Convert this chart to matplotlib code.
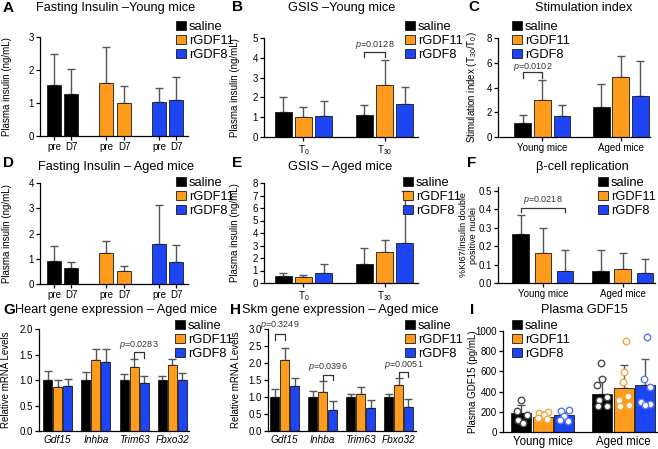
import matplotlib.pyplot as plt
from matplotlib.patches import Patch

plt.rcParams['font.family'] = ['Liberation Sans', 'DejaVu Sans']
plt.rcParams['mathtext.fontset'] = 'custom'
plt.rcParams['mathtext.rm'] = 'Liberation Sans'
plt.rcParams['mathtext.it'] = 'Liberation Sans:italic'
plt.rcParams['axes.linewidth'] = 0.9

# ---- data ----
groups = ['saline', 'rGDF11', 'rGDF8']
colors = ['#000000', '#ff9b1c', '#1d44f5']
dot_edges = ['#4a4a4a', '#f7a640', '#5a78f2']

# A / D: order saline pre, saline D7, rGDF11 pre, rGDF11 D7, rGDF8 pre, rGDF8 D7
prepost_labels = ['pre', 'D7', 'pre', 'D7', 'pre', 'D7']
A_mean = [1.54, 1.26, 1.62, 0.99, 1.02, 1.09]
A_err = [0.94, 0.76, 1.08, 0.53, 0.44, 0.71]
D_mean = [0.91, 0.64, 1.21, 0.52, 1.58, 0.88]
D_err = [0.59, 0.22, 0.49, 0.18, 1.55, 0.65]

# B / E: T0 then T30, each saline, rGDF11, rGDF8
time_labels = ['T$_0$', 'T$_{30}$']
B_mean = [1.25, 0.99, 1.08, 1.13, 2.64, 1.67]
B_err = [0.77, 0.53, 0.72, 0.50, 1.25, 0.84]
E_mean = [0.59, 0.48, 0.83, 1.52, 2.48, 3.20]
E_err = [0.21, 0.19, 0.69, 1.25, 0.99, 4.13]

# C / F / I: young then aged
age_labels = ['Young mice', 'Aged mice']
C_mean = [1.13, 3.02, 1.72, 2.43, 4.85, 3.29]
C_err = [0.62, 1.56, 0.89, 1.88, 1.73, 2.86]
F_mean = [0.263, 0.161, 0.065, 0.065, 0.078, 0.056]
F_err = [0.107, 0.135, 0.115, 0.115, 0.083, 0.074]
I_mean = [188, 150, 172, 381, 432, 463]
I_err = [84, 50, 22, 157, 228, 255]
I_points = [
    [320, 205, 172, 118, 92],
    [202, 192, 165, 134, 124],
    [215, 212, 158, 116, 112],
    [686, 528, 467, 350, 316, 259, 255],
    [905, 595, 495, 360, 320, 265, 258],
    [940, 528, 444, 299, 276, 272],
]
I_offsets = [
    [0.0, -0.22, 0.25, -0.18, 0.08],
    [0.22, -0.2, 0.05, -0.22, 0.2],
    [0.2, -0.18, 0.0, -0.2, 0.18],
    [-0.05, 0.0, -0.22, 0.22, -0.15, 0.25, -0.2],
    [0.1, 0.0, -0.05, 0.22, -0.2, 0.25, -0.15],
    [0.1, -0.05, 0.25, -0.2, 0.22, 0.0],
]

# G / H: genes
genes = ['Gdf15', 'Inhba', 'Trim63', 'Fbxo32']
G_mean = {'saline': [1.0, 1.0, 1.0, 1.0],
          'rGDF11': [0.87, 1.40, 1.26, 1.30],
          'rGDF8': [0.88, 1.36, 0.95, 1.00]}
G_err = {'saline': [0.17, 0.15, 0.12, 0.08],
         'rGDF11': [0.13, 0.21, 0.15, 0.11],
         'rGDF8': [0.14, 0.24, 0.13, 0.14]}
H_mean = {'saline': [1.0, 1.0, 1.0, 1.0],
          'rGDF11': [2.10, 1.16, 1.09, 1.36],
          'rGDF8': [1.33, 0.62, 0.68, 0.72]}
H_err = {'saline': [0.25, 0.19, 0.08, 0.10],
         'rGDF11': [0.33, 0.30, 0.21, 0.20],
         'rGDF8': [0.24, 0.26, 0.22, 0.23]}

W, H = 658, 449
fig = plt.figure(figsize=(W / 100, H / 100), dpi=100)


def px_axes(left, right, top, bottom):
    ax = fig.add_axes([left / W, 1 - bottom / H, (right - left) / W, (bottom - top) / H])
    ax.spines['top'].set_visible(False)
    ax.spines['right'].set_visible(False)
    ax.tick_params(labelsize=7, length=3, width=0.9, pad=1.5)
    return ax


def bars(ax, xs, means, errs, cols, width):
    ax.bar(xs, means, width, color=cols, edgecolor='#1a1a1a', linewidth=0.6, zorder=2)
    ax.errorbar(xs, means, yerr=[[0] * len(errs), errs], fmt='none', ecolor='#555555',
                elinewidth=1, capsize=3, capthick=1, zorder=1)


def ylab(ax, text, x_px, left, right, size=7):
    ax.set_ylabel(text, fontsize=size, linespacing=1.2)
    ax.yaxis.set_label_coords((x_px - left) / (right - left), 0.5)


def legend(ax, x_px, y_px):
    handles = [Patch(facecolor=c, edgecolor='#1a1a1a', linewidth=0.6) for c in colors]
    ax.legend(handles, groups, loc='upper left', bbox_to_anchor=(x_px / W, 1 - y_px / H),
              bbox_transform=fig.transFigure, frameon=False, fontsize=9.3,
              handlelength=0.75, handleheight=0.75, handletextpad=0.25,
              labelspacing=0.12, borderpad=0, borderaxespad=0)


def bracket(ax, x1, x2, top, leg, text, ty):
    ax.plot([x1, x1, x2, x2], [leg, top, top, leg], color='#333333', lw=0.9, clip_on=False)
    ax.text((x1 + x2) / 2, ty, text, fontsize=6.5, ha='center', va='center', color='#333333')


def title(x, y, text, letter, lx, ly):
    fig.text(x / W, 1 - y / H, text, fontsize=9.2, ha='center', va='center')
    fig.text(lx / W, 1 - ly / H, letter, fontsize=11, fontweight='bold', ha='left', va='center')


bar_cols = colors * 2

# ---- A ----
xs_pp = [0, 1, 3, 4, 6, 7]
pp_cols = ['#000000', '#000000', colors[1], colors[1], colors[2], colors[2]]
ax = px_axes(40, 188, 37, 136)
bars(ax, xs_pp, A_mean, A_err, pp_cols, 0.8)
ax.set_xlim(-0.8, 7.66)
ax.set_ylim(0, 3)
ax.set_yticks([0, 1, 2, 3])
ax.set_xticks(xs_pp)
ax.set_xticklabels(prepost_labels)
ylab(ax, 'Plasma insulin (ng/mL)', 12, 40, 188)
legend(ax, 176, 21)
title(116, 8, 'Fasting Insulin \u2013Young mice', 'A', 3, 8)

# ---- D ----
ax = px_axes(40, 188, 183, 284)
bars(ax, xs_pp, D_mean, D_err, pp_cols, 0.8)
ax.set_xlim(-0.8, 7.66)
ax.set_ylim(0, 4)
ax.set_yticks([0, 1, 2, 3, 4])
ax.set_xticks(xs_pp)
ax.set_xticklabels(prepost_labels)
ylab(ax, 'Plasma insulin (ng/mL)', 12, 40, 188)
legend(ax, 176, 177)
title(116, 167, 'Fasting Insulin \u2013 Aged mice', 'D', 3, 163)

# ---- B ----
xs3 = [0, 1, 2, 4, 5, 6]
ax = px_axes(264, 418, 38, 137)
bars(ax, xs3, B_mean, B_err, bar_cols, 0.84)
ax.set_xlim(-0.94, 6.65)
ax.set_ylim(0, 5)
ax.set_yticks(range(6))
ax.set_xticks([1, 5])
ax.set_xticklabels(time_labels)
ylab(ax, 'Plasma insulin (ng/mL)', 240, 264, 418)
legend(ax, 405, 21)
bracket(ax, 4, 5, 4.3, 4.05, '$p$=0.0128', 4.65)
title(342, 8, 'GSIS \u2013Young mice', 'B', 232, 7)

# ---- E ----
ax = px_axes(264, 418, 183, 283)
bars(ax, xs3, E_mean, E_err, bar_cols, 0.84)
ax.set_xlim(-0.94, 6.65)
ax.set_ylim(0, 8)
ax.set_yticks(range(9))
ax.set_xticks([1, 5])
ax.set_xticklabels(time_labels)
ylab(ax, 'Plasma insulin (ng/mL)', 240, 264, 418)
legend(ax, 403, 177)
title(340, 167, 'GSIS \u2013 Aged mice', 'E', 232, 163)

# ---- C ----
ax = px_axes(498, 650, 38, 137)
bars(ax, xs3, C_mean, C_err, bar_cols, 0.87)
ax.set_xlim(-1.28, 6.51)
ax.set_ylim(0, 8)
ax.set_yticks([0, 2, 4, 6, 8])
ax.set_xticks([1, 5])
ax.set_xticklabels(age_labels, fontsize=7)
ylab(ax, 'Stimulation index (T$_{30}$/T$_0$)', 479, 498, 650)
legend(ax, 512, 21)
bracket(ax, 0, 1, 5.26, 4.77, '$p$=0.0102', 5.65)
title(584, 8, 'Stimulation index', 'C', 468, 7)

# ---- F ----
xsF = [0, 1, 2, 3.6, 4.6, 5.6]
ax = px_axes(498, 655, 187, 283)
bars(ax, xsF, F_mean, F_err, bar_cols, 0.75)
ax.set_xlim(-1.02, 6.05)
ax.set_ylim(0, 0.52)
ax.set_yticks([0, 0.1, 0.2, 0.3, 0.4, 0.5])
ax.set_yticklabels(['0.0', '0.1', '0.2', '0.3', '0.4', '0.5'])
ax.set_xticks([1, 4.6])
ax.set_xticklabels(age_labels, fontsize=7)
ylab(ax, '%KI67/insulin double\npositive nuclei', 478, 498, 655, size=6.5)
legend(ax, 598, 177)
bracket(ax, 0, 2, 0.407, 0.385, '$p$=0.0218', 0.45)
title(582, 167, '\u03b2-cell replication', 'F', 467, 163)


# ---- G / H ----
def gene_axes(left, right, xl, mean, err, step):
    ax = px_axes(left, right, 329, 431)
    for i, g in enumerate(groups):
        xs = [k * step + (i - 1) for k in range(len(genes))]
        bars(ax, xs, mean[g], err[g], [colors[i]] * len(genes), 0.92)
    ax.set_xlim(*xl)
    ax.set_xticks([k * step for k in range(len(genes))])
    ax.set_xticklabels(genes, fontstyle='italic', fontsize=7.3)
    ax.tick_params(axis='x', length=0, pad=3)
    return ax


ax = gene_axes(39, 189, (-1.85, 13.15), G_mean, G_err, 3.83)
ax.set_ylim(0, 2.0)
ax.set_yticks([0, 0.5, 1.0, 1.5, 2.0])
ax.set_yticklabels(['0.0', '0.5', '1.0', '1.5', '2.0'])
ylab(ax, 'Relative mRNA Levels', 11, 39, 189)
legend(ax, 175, 320)
bracket(ax, 2 * 3.83 + 0, 2 * 3.83 + 1, 1.54, 1.43, '$p$=0.0283', 1.68)
title(116, 310, 'Heart gene expression \u2013 Aged mice', 'G', 3, 310)

ax = gene_axes(268, 416, (-1.65, 13.15), H_mean, H_err, 3.8)
ax.set_ylim(0, 3.0)
ax.set_yticks([0, 0.5, 1.0, 1.5, 2.0, 2.5, 3.0])
ax.set_yticklabels(['0.0', '0.5', '1.0', '1.5', '2.0', '2.5', '3.0'])
ylab(ax, 'Relative mRNA Levels', 241, 268, 416)
legend(ax, 405, 320)
bracket(ax, -1, 0, 2.84, 2.68, '$p$=0.3249', 3.12)
bracket(ax, 3.8, 4.8, 1.65, 1.5, '$p$=0.0396', 1.89)
bracket(ax, 3 * 3.8, 3 * 3.8 + 1, 1.75, 1.6, '$p$=0.0051', 1.95)
title(340, 310, 'Skm gene expression \u2013 Aged mice', 'H', 230, 310)

# ---- I ----
xsI = [0, 1, 2, 3.75, 4.75, 5.75]
ax = px_axes(503, 658, 331, 432)
bars(ax, xsI, I_mean, I_err, bar_cols, 0.93)
for j, (pts, offs) in enumerate(zip(I_points, I_offsets)):
    ax.scatter([xsI[j] + o for o in offs], pts, s=22, facecolor='white',
               edgecolor=dot_edges[j % 3], linewidth=1.0, zorder=3, clip_on=False)
ax.set_xlim(-0.86, 6.35)
ax.set_ylim(0, 1000)
ax.set_yticks(range(0, 1001, 200))
ax.set_xticks([1, 4.75])
ax.set_xticklabels(age_labels, fontsize=8.3)
ax.tick_params(axis='x', length=0, pad=3)
ylab(ax, 'Plasma GDF15 (pg/mL)', 478, 503, 658)
legend(ax, 512, 320)
title(584, 310, 'Plasma GDF15', 'I', 470, 310)

fig.savefig('out.png', dpi=100)
